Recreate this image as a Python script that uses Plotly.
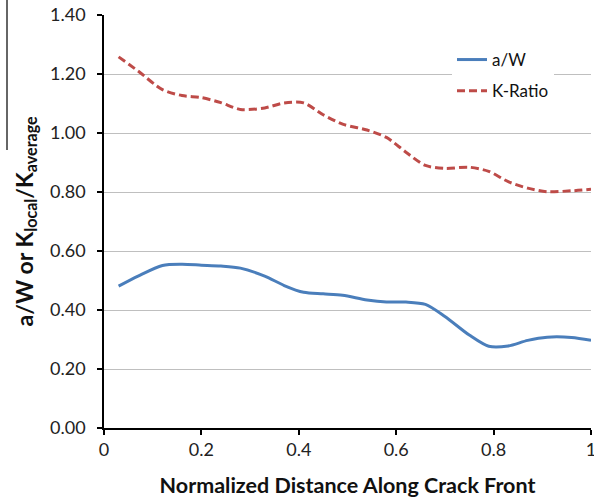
import plotly.graph_objects as go

x_pos = [0.03, 0.07, 0.12, 0.16, 0.20, 0.24, 0.28, 0.33, 0.37, 0.41, 0.45, 0.49,
         0.54, 0.58, 0.62, 0.66, 0.70, 0.75, 0.79, 0.83, 0.87, 0.91, 0.96, 1.00]
a_w = [0.481, 0.515, 0.551, 0.555, 0.552, 0.549, 0.542, 0.515, 0.483, 0.460, 0.455, 0.450,
       0.434, 0.427, 0.427, 0.419, 0.378, 0.315, 0.277, 0.278, 0.297, 0.308, 0.307, 0.297]
k_ratio = [1.258, 1.210, 1.147, 1.127, 1.120, 1.103, 1.080, 1.085, 1.102, 1.102, 1.062, 1.030,
           1.010, 0.985, 0.935, 0.890, 0.880, 0.884, 0.870, 0.835, 0.813, 0.801, 0.804, 0.809]

x_ticks = [0, 0.2, 0.4, 0.6, 0.8, 1]
x_ticklabels = ["0", "0.2", "0.4", "0.6", "0.8", "1"]
y_ticks = [0, 0.2, 0.4, 0.6, 0.8, 1.0, 1.2, 1.4]
y_ticklabels = ["0.00", "0.20", "0.40", "0.60", "0.80", "1.00", "1.20", "1.40"]

FONT = "Lato, 'Open Sans', sans-serif"

fig = go.Figure()
fig.add_trace(go.Scatter(
    x=x_pos, y=a_w, name="a/W", mode="lines", legendgroup="a",
    line=dict(color="#4A7EBB", width=3, shape="spline", smoothing=0.8),
))
fig.add_trace(go.Scatter(
    x=x_pos, y=k_ratio, name="K-Ratio", mode="lines", legendgroup="k",
    line=dict(color="#BE4B48", width=3, dash="8px,4px", shape="spline", smoothing=0.8),
))

fig.update_layout(
    width=594, height=498,
    margin=dict(l=104, r=3, t=15, b=70),
    paper_bgcolor="white", plot_bgcolor="white",
    font=dict(family=FONT, size=16, color="#222222"),
    showlegend=True,
    legend=dict(
        x=(452 - 104) / 487, y=(428 - 42) / 413, xanchor="left", yanchor="top",
        bgcolor="white", borderwidth=0, font=dict(size=17, color="#111111"),
        tracegroupgap=6, itemwidth=30,
    ),
    xaxis=dict(
        range=[0, 1], tickvals=x_ticks, ticktext=x_ticklabels,
        showgrid=False, zeroline=False,
        showline=True, linecolor="#000000", linewidth=1.5,
        ticks="outside", ticklen=5, tickcolor="#000000", tickwidth=1.5,
        ticklabeloverflow="allow", automargin=False,
        tickfont=dict(size=18, family=FONT, color="#222222"),
        title=dict(text="<b>Normalized Distance Along Crack Front</b>",
                   font=dict(size=21.5, family=FONT, color="#111111"), standoff=20),
    ),
    yaxis=dict(
        range=[0, 1.4], tickvals=y_ticks, ticktext=y_ticklabels,
        showgrid=True, gridcolor="#BFBFBF", gridwidth=1, zeroline=False,
        showline=True, linecolor="#000000", linewidth=1.5,
        ticks="outside", ticklen=5, tickcolor="#000000", tickwidth=1.5,
        ticklabelstandoff=8, automargin=False,
        tickfont=dict(size=18, family=FONT, color="#222222"),
    ),
)

fig.add_annotation(
    text="<b>a/W or K<sub>local</sub>/K<sub>average</sub></b>",
    xref="paper", yref="paper",
    x=(25 - 104) / 487, y=0.5, xanchor="center", yanchor="middle",
    textangle=-90, showarrow=False,
    font=dict(size=23, family=FONT, color="#111111"),
)

fig.add_shape(
    type="line", xref="paper", yref="paper",
    x0=(7 - 104) / 487, x1=(7 - 104) / 487,
    y0=(428 - 0) / 413, y1=(428 - 150) / 413,
    line=dict(color="#333333", width=1.5),
)

fig.write_html("out.html")
